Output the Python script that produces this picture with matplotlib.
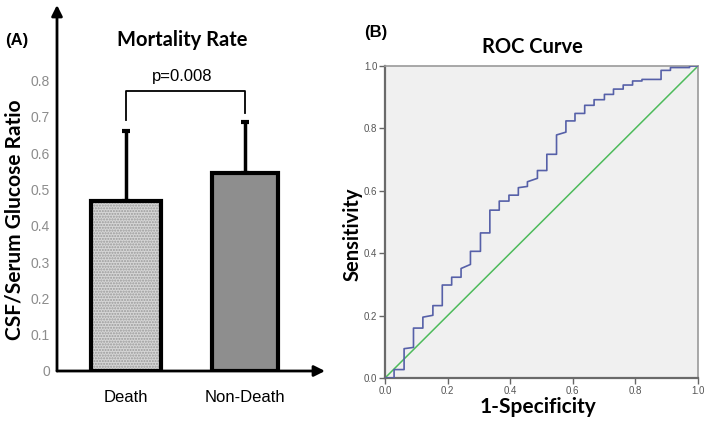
import numpy as np
import matplotlib.pyplot as plt

# panel A data
groups = ["Death", "Non-Death"]
ratio_mean = [0.468, 0.545]
ratio_sd = [0.193, 0.141]
p_text = "p=0.008"
y_ticks_a = [0, 0.1, 0.2, 0.3, 0.4, 0.5, 0.6, 0.7, 0.8]

# panel B data (ROC vertices)
fpr = [0, 0.029, 0.029, 0.061, 0.061, 0.091, 0.091, 0.121, 0.121, 0.153, 0.153,
       0.183, 0.183, 0.213, 0.213, 0.243, 0.243, 0.273, 0.273, 0.305, 0.305,
       0.335, 0.335, 0.365, 0.365, 0.396, 0.396, 0.426, 0.426, 0.455, 0.455,
       0.487, 0.487, 0.517, 0.517, 0.548, 0.548, 0.578, 0.578, 0.607, 0.607,
       0.638, 0.638, 0.668, 0.668, 0.701, 0.701, 0.730, 0.730, 0.761, 0.761,
       0.791, 0.791, 0.821, 0.821, 0.882, 0.882, 0.912, 0.912, 0.973, 0.973, 1.0]
tpr = [0, 0, 0.027, 0.027, 0.094, 0.098, 0.160, 0.160, 0.195, 0.201, 0.232,
       0.232, 0.298, 0.298, 0.323, 0.323, 0.351, 0.364, 0.406, 0.406, 0.465,
       0.465, 0.538, 0.538, 0.567, 0.567, 0.586, 0.586, 0.610, 0.614, 0.629,
       0.640, 0.665, 0.665, 0.717, 0.717, 0.779, 0.788, 0.824, 0.824, 0.848,
       0.848, 0.874, 0.874, 0.892, 0.892, 0.909, 0.909, 0.926, 0.926, 0.939,
       0.939, 0.952, 0.952, 0.957, 0.957, 0.986, 0.986, 0.995, 0.995, 1.0, 1.0]
ticks_b = [0.0, 0.2, 0.4, 0.6, 0.8, 1.0]

W, H = 709, 424
fig = plt.figure(figsize=(W / 100, H / 100), dpi=100)
bold_font = ["Lato", "DejaVu Sans"]
plain_font = ["Liberation Sans", "DejaVu Sans"]

# ---------- panel A ----------
axa = fig.add_axes([57 / W, 1 - 371 / H, (325 - 57) / W, (371 - 5) / H])
axa.set_xlim(-0.58, 1.672)
axa.set_ylim(0, 366 / 363)
for s in axa.spines.values():
    s.set_visible(False)
axa.set_facecolor("none")

x = np.arange(len(groups))
axa.bar(x[0], ratio_mean[0], width=0.59, color="#d6d6d6", hatch="......",
        edgecolor="#9a9a9a", linewidth=0, zorder=2)
axa.bar(x[1], ratio_mean[1], width=0.56, color="#8e8e8e", linewidth=0, zorder=2)
axa.bar(x, ratio_mean, width=[0.59, 0.56], facecolor="none", edgecolor="black",
        linewidth=3, zorder=3)
axa.errorbar(x, ratio_mean, yerr=[[0, 0], ratio_sd], fmt="none", ecolor="black",
             elinewidth=2.5, capsize=3, capthick=3, zorder=1)

# significance bracket
top = 0.771
axa.plot([x[0], x[0], x[1], x[1]], [0.691, top, top, 0.711], color="black", lw=1.3)
axa.text((x[0] + x[1]) / 2 - 0.03, 0.79, p_text, ha="center", va="bottom",
         fontsize=12, family=plain_font)

axa.annotate("", xy=(0, 1), xytext=(0, 0), xycoords="axes fraction",
             arrowprops=dict(arrowstyle="-|>", lw=2, color="black", mutation_scale=16,
                             shrinkA=0, shrinkB=0))
axa.annotate("", xy=(1, 0), xytext=(0, 0), xycoords="axes fraction",
             arrowprops=dict(arrowstyle="-|>", lw=2, color="black", mutation_scale=16,
                             shrinkA=0, shrinkB=0))

axa.set_yticks(y_ticks_a)
axa.set_yticklabels([("%g" % v) for v in y_ticks_a], color="#8c8c8c", fontsize=10,
                    family=plain_font)
axa.tick_params(axis="y", length=0, pad=5)
axa.set_xticks(x)
axa.set_xticklabels(groups, fontsize=12, family=plain_font)
axa.tick_params(axis="x", length=0, pad=14)

fig.text(15 / W, 1 - 220 / H, "CSF/Serum Glucose Ratio", rotation=90, ha="center",
         va="center", fontsize=15, fontweight="bold", family=bold_font)
fig.text(182 / W, 1 - 40 / H, "Mortality Rate", ha="center", va="center",
         fontsize=14.5, fontweight="bold", family=bold_font)
fig.text(5 / W, 1 - 40 / H, "(A)", ha="left", va="center",
         fontsize=12, fontweight="bold", family=plain_font)

# ---------- panel B ----------
axb = fig.add_axes([385 / W, 1 - 378 / H, 313 / W, 312 / H])
axb.set_facecolor("#f0f0f0")
axb.plot([0, 1], [0, 1], color="#4dbb5b", lw=1.1, zorder=2)
axb.plot(fpr, tpr, color="#5660a8", lw=1.2, zorder=3)
axb.set_xlim(0, 1)
axb.set_ylim(0, 1)
axb.set_xticks(ticks_b)
axb.set_yticks(ticks_b)
axb.set_xticklabels(["%.1f" % t for t in ticks_b])
axb.set_yticklabels(["%.1f" % t for t in ticks_b])
axb.tick_params(length=4, width=1, color="#666666", labelsize=7,
                labelcolor="#555555", pad=1.5)
for side in ["left", "bottom"]:
    axb.spines[side].set_color("#6a6a6a")
    axb.spines[side].set_linewidth(1.6)
for side in ["top", "right"]:
    axb.spines[side].set_color("#9a9a9a")
    axb.spines[side].set_linewidth(1.2)
for lbl in axb.get_xticklabels() + axb.get_yticklabels():
    lbl.set_family(plain_font)

fig.text(538 / W, 1 - 407 / H, "1-Specificity", ha="center", va="center",
         fontsize=15, fontweight="bold", family=bold_font)
fig.text(353 / W, 1 - 234 / H, "Sensitivity", rotation=90, ha="center", va="center",
         fontsize=14.5, fontweight="bold", family=bold_font)
fig.text(532 / W, 1 - 47 / H, "ROC Curve", ha="center", va="center",
         fontsize=14.5, fontweight="bold", family=bold_font)
fig.text(364 / W, 1 - 33 / H, "(B)", ha="left", va="center",
         fontsize=12, fontweight="bold", family=plain_font)

fig.savefig("out.png", dpi=100)
